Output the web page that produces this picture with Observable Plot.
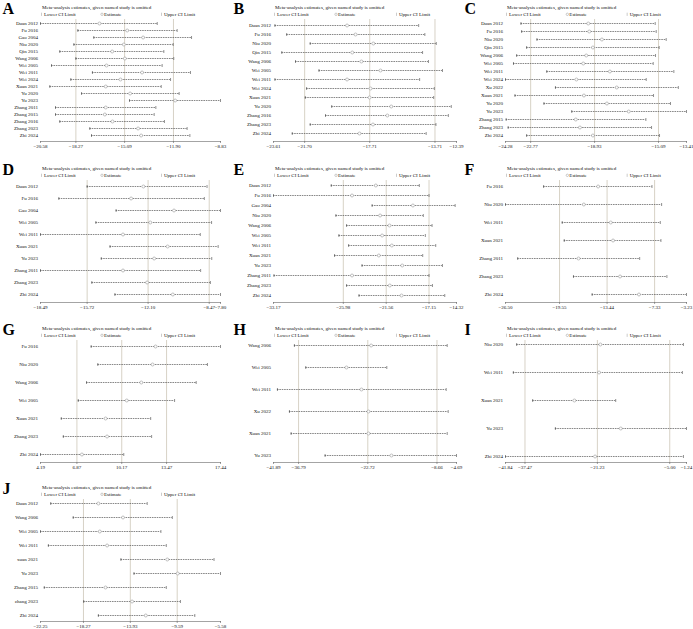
<!DOCTYPE html>
<html><head><meta charset="utf-8">
<script src="https://cdn.jsdelivr.net/npm/d3@7"></script>
<script src="https://cdn.jsdelivr.net/npm/@observablehq/plot@0.6"></script>
<style>
html,body{margin:0;padding:0;background:#fff;overflow:hidden;}
#root{position:relative;width:693px;height:629px;background:#fff;}
.panel{position:absolute;}
.panel svg{overflow:visible;}
</style></head><body><div id="root"></div>
<script>
const titleText = "Meta-analysis estimates, given named study is omitted";
const legendLabels = ["Lower CI Limit", "Estimate", "Upper CI Limit"];
const letters = ["A","B","C","D","E","F","G","H","I","J"];

const studiesA = ["Duan 2012","Fu 2016","Gao 2004","Niu 2020","Qin 2015","Wang 2006","Wei 2005","Wei 2011","Wei 2024","Xuan 2021","Yu 2020","Yu 2023","Zhang 2011","Zhang 2015","Zhang 2016","Zhang 2023","Zhi 2024"];
const lowerA = [-20.58,-18.14,-17.10,-18.40,-19.32,-18.27,-19.86,-17.19,-18.60,-19.97,-17.90,-14.77,-19.60,-19.60,-19.32,-17.36,-17.25];
const estA = [-16.73,-14.92,-13.88,-15.14,-15.90,-15.07,-16.27,-13.95,-15.36,-16.32,-14.73,-11.79,-16.32,-16.38,-15.88,-14.21,-14.01];
const upperA = [-12.96,-11.66,-10.72,-11.92,-12.53,-11.88,-12.64,-10.79,-12.09,-12.70,-11.53,-8.83,-13.05,-13.16,-12.49,-11.01,-10.83];
const ticksA = [-20.58,-18.27,-15.09,-11.90,-8.83];

const studiesB = ["Duan 2012","Fu 2016","Niu 2020","Qin 2015","Wang 2006","Wei 2005","Wei 2011","Wei 2024","Xuan 2021","Yu 2020","Zhang 2016","Zhang 2023","Zhi 2024"];
const lowerB = [-23.52,-22.80,-21.36,-23.10,-22.26,-20.82,-23.52,-21.58,-21.66,-20.04,-20.42,-21.36,-22.46];
const estB = [-19.10,-18.58,-17.49,-18.78,-18.22,-17.05,-19.10,-17.66,-17.72,-16.39,-16.63,-17.51,-18.34];
const upperB = [-14.71,-14.33,-13.63,-14.47,-14.11,-13.25,-14.65,-13.75,-13.79,-12.71,-12.89,-13.65,-14.25];
const ticksB = [-23.61,-21.70,-17.71,-13.71,-12.39];

const studiesC = ["Duan 2012","Fu 2016","Niu 2020","Qin 2015","Wang 2006","Wei 2005","Wei 2011","Wei 2024","Xu 2022","Xuan 2021","Yu 2020","Yu 2023","Zhang 2015","Zhang 2023","Zhi 2024"];
const lowerC = [-23.35,-23.31,-22.39,-23.01,-23.61,-23.80,-21.80,-24.28,-21.28,-23.71,-21.97,-20.30,-24.24,-24.12,-23.01];
const estC = [-19.31,-19.25,-18.49,-19.03,-19.43,-19.61,-18.01,-20.02,-17.60,-19.57,-18.19,-16.88,-20.06,-19.81,-19.03];
const upperC = [-15.29,-15.23,-14.63,-15.05,-15.27,-15.41,-14.17,-15.83,-13.90,-15.39,-14.37,-13.41,-15.85,-15.51,-15.03];
const ticksC = [-24.28,-22.77,-18.93,-15.09,-13.41];

const studiesD = ["Duan 2012","Fu 2016","Gao 2004","Wei 2005","Wei 2011","Xuan 2021","Yu 2023","Zhang 2011","Zhang 2023","Zhi 2024"];
const lowerD = [-15.72,-17.40,-14.00,-15.20,-18.49,-14.36,-14.88,-18.49,-15.44,-14.07];
const estD = [-12.38,-13.11,-10.56,-11.97,-13.59,-10.94,-11.74,-13.59,-12.16,-10.63];
const upperD = [-8.60,-8.76,-7.80,-8.33,-9.00,-7.94,-8.32,-8.98,-8.40,-7.80];
const ticksD = [-18.49,-15.72,-12.10,-8.47,-7.80];

const studiesE = ["Duan 2012","Fu 2016","Gao 2004","Niu 2020","Wang 2006","Wei 2005","Wei 2011","Xuan 2021","Yu 2023","Zhang 2011","Zhang 2023","Zhi 2024"];
const lowerE = [-27.22,-33.17,-23.01,-26.74,-25.64,-26.43,-25.43,-26.88,-24.05,-33.12,-25.64,-24.36];
const estE = [-22.63,-25.08,-18.81,-22.19,-21.22,-21.98,-20.98,-22.32,-19.91,-25.08,-21.19,-19.98];
const upperE = [-18.15,-17.15,-14.46,-17.74,-16.84,-17.53,-16.46,-17.80,-15.77,-17.15,-16.80,-15.53];
const ticksE = [-33.17,-25.98,-21.56,-17.15,-14.32];

const studiesF = ["Fu 2016","Niu 2020","Wei 2011","Xuan 2021","Zhang 2011","Zhang 2023","Zhi 2024"];
const lowerF = [-21.60,-26.50,-19.21,-18.95,-24.93,-17.76,-15.36];
const estF = [-14.59,-16.43,-12.97,-12.67,-17.11,-11.77,-9.34];
const upperF = [-7.67,-6.43,-6.60,-6.52,-9.25,-5.75,-3.23];
const ticksF = [-26.50,-19.55,-13.44,-7.33,-3.23];

const studiesG = ["Fu 2016","Niu 2020","Wang 2006","Wei 2005","Xuan 2021","Zhang 2023","Zhi 2024"];
const lowerG = [7.92,8.41,7.58,6.97,5.72,5.87,4.19];
const estG = [12.66,12.44,11.61,10.54,8.98,9.09,7.24];
const upperG = [17.44,16.48,15.65,14.06,12.30,12.37,10.32];
const ticksG = [4.19,6.87,10.17,13.47,17.44];

const studiesH = ["Wang 2006","Wei 2005","Wei 2011","Xu 2022","Xuan 2021","Yu 2023"];
const lowerH = [-37.64,-35.33,-41.09,-38.65,-38.31,-31.40];
const estH = [-22.04,-27.06,-24.01,-22.58,-22.58,-17.91];
const upperH = [-6.58,-18.86,-6.79,-6.38,-6.58,-4.69];
const ticksH = [-41.89,-36.79,-22.72,-8.66,-4.69];

const studiesI = ["Niu 2020","Wei 2011","Xuan 2021","Yu 2023","Zhi 2024"];
const lowerI = [-39.33,-40.08,-35.74,-30.65,-41.84];
const estI = [-20.56,-20.86,-26.39,-15.99,-21.75];
const upperI = [-1.93,-2.16,-17.12,-1.24,-1.93];
const ticksI = [-41.84,-37.47,-21.23,-5.00,-1.24];

const studiesJ = ["Duan 2012","Wang 2006","Wei 2005","Wei 2011","xuan 2021","Yu 2023","Zhang 2015","zhang 2023","Zhi 2024"];
const lowerJ = [-21.30,-19.22,-22.25,-21.52,-14.80,-13.59,-21.90,-18.25,-16.89];
const estJ = [-16.89,-14.61,-16.76,-16.08,-10.51,-9.54,-16.23,-13.77,-12.50];
const upperJ = [-12.37,-10.04,-11.10,-10.60,-6.18,-5.58,-10.60,-9.29,-7.96];
const ticksJ = [-22.25,-18.27,-13.93,-9.59,-5.58];

const panels = [
  {studies: studiesA, lower: lowerA, est: estA, upper: upperA, ticks: ticksA},
  {studies: studiesB, lower: lowerB, est: estB, upper: upperB, ticks: ticksB},
  {studies: studiesC, lower: lowerC, est: estC, upper: upperC, ticks: ticksC},
  {studies: studiesD, lower: lowerD, est: estD, upper: upperD, ticks: ticksD},
  {studies: studiesE, lower: lowerE, est: estE, upper: upperE, ticks: ticksE},
  {studies: studiesF, lower: lowerF, est: estF, upper: upperF, ticks: ticksF},
  {studies: studiesG, lower: lowerG, est: estG, upper: upperG, ticks: ticksG},
  {studies: studiesH, lower: lowerH, est: estH, upper: upperH, ticks: ticksH},
  {studies: studiesI, lower: lowerI, est: estI, upper: upperI, ticks: ticksI},
  {studies: studiesJ, lower: lowerJ, est: estJ, upper: upperJ, ticks: ticksJ}
];

const colLeft = [0, 231, 462];
const rowTop = [0, 161, 321, 480];
const colMargins = [[40, 11], [42, 6], [43, 7]];
const fmt = d3.format(".2f");
const bar = {draw(ctx, size) { const h = Math.sqrt(size / Math.PI); ctx.moveTo(0, -h); ctx.lineTo(0, h); }};
const gridColor = "#d2cdbf";
const root = document.getElementById("root");

panels.forEach((p, i) => {
  const col = i % 3, row = Math.floor(i / 3);
  const [ml, mr] = colMargins[col];
  const rows = p.studies.map((s, j) => ({study: s, lo: p.lower[j], est: p.est[j], hi: p.upper[j]}));
  const x0 = p.ticks[0], x4 = p.ticks[4];
  const legend = legendLabels.map((t, k) => ({t, k, x: x0 + (x4 - x0) * k / 3}));
  const chart = Plot.plot({
    width: 231, height: 149,
    marginLeft: ml, marginRight: mr, marginTop: 19, marginBottom: 8,
    style: {fontFamily: "'Liberation Serif', 'Times New Roman', serif", fontSize: "5px", background: "transparent", color: "#111"},
    x: {domain: [x0, x4], label: null},
    y: {type: "point", domain: p.studies, padding: 0, insetTop: 4, insetBottom: 6, label: null},
    marks: [
      Plot.ruleX(p.ticks.slice(1, 4), {stroke: gridColor, strokeWidth: 0.9}),
      Plot.frame({anchor: "bottom", stroke: "#666", strokeWidth: 0.6}),
      Plot.axisX({ticks: p.ticks, tickFormat: fmt, tickSize: 2, tickPadding: 1, fontSize: 5, stroke: "#666", strokeWidth: 0.6, label: null}),
      Plot.axisY({tickSize: 0, tickPadding: 2.5, fontSize: 5, label: null}),
      Plot.ruleY(rows, {y: "study", x1: "lo", x2: "hi", stroke: "#555", strokeWidth: 0.7, strokeDasharray: "1.6,0.8"}),
      Plot.dot(rows, {x: "lo", y: "study", symbol: bar, r: 1.5, fill: "none", stroke: "#444", strokeWidth: 0.6}),
      Plot.dot(rows, {x: "hi", y: "study", symbol: bar, r: 1.5, fill: "none", stroke: "#444", strokeWidth: 0.6}),
      Plot.dot(rows, {x: "est", y: "study", r: 1.5, fill: "#fff", stroke: "#999", strokeWidth: 0.6}),
      Plot.text([{t: titleText, x: x0}], {x: "x", text: "t", frameAnchor: "top", dx: 1.5, dy: -10.5, lineAnchor: "bottom", textAnchor: "start", fontSize: 5, fill: "#111"}),
      Plot.dot(legend.filter(d => d.k !== 1), {x: "x", frameAnchor: "top", dx: 1, dy: -5.2, symbol: bar, r: 1.6, fill: "none", stroke: "#aaa", strokeWidth: 0.6}),
      Plot.dot(legend.filter(d => d.k === 1), {x: "x", frameAnchor: "top", dx: 1.5, dy: -5.2, r: 1.2, fill: "none", stroke: "#aaa", strokeWidth: 0.6}),
      Plot.text(legend, {x: "x", text: "t", frameAnchor: "top", dx: 3.5, dy: -3.5, lineAnchor: "bottom", textAnchor: "start", fontSize: 5, fill: "#111"}),
      Plot.text([{t: letters[i]}], {text: "t", frameAnchor: "top-left", dx: 2 - ml, dy: -5.5, lineAnchor: "bottom", textAnchor: "start", fontSize: 16, fontWeight: "bold", fill: "#000"})
    ]
  });
  const div = document.createElement("div");
  div.className = "panel";
  div.style.left = colLeft[col] + "px";
  div.style.top = rowTop[row] + "px";
  div.appendChild(chart);
  root.appendChild(div);
});
</script></body></html>
